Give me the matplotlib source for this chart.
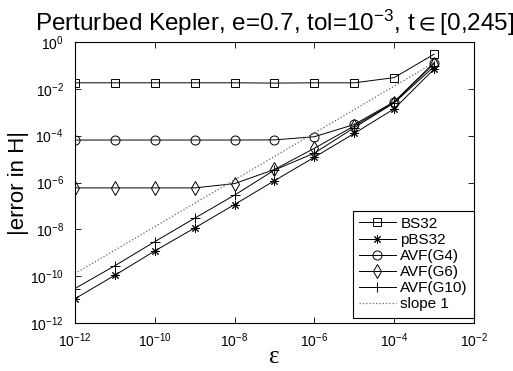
import numpy as np
import matplotlib
matplotlib.use('Agg')
import matplotlib.pyplot as plt
from matplotlib.ticker import LogLocator, NullLocator

params = {
    'font.family'      : ['Liberation Sans', 'DejaVu Sans'],
    'mathtext.default' : 'regular',
    'axes.linewidth'   : 0.8,
}
matplotlib.rcParams.update(params)

eps = [1e-12, 1e-11, 1e-10, 1e-9, 1e-8, 1e-7, 1e-6, 1e-5, 1e-4, 1e-3]

bs32    = [1.8e-2, 1.8e-2, 1.8e-2, 1.8e-2, 1.8e-2, 1.75e-2, 1.8e-2, 1.8e-2, 3.0e-2, 3.0e-1]
pbs32   = [1.1e-11, 1.1e-10, 1.2e-9, 1.15e-8, 1.15e-7, 1.2e-6, 1.2e-5, 1.25e-4, 1.4e-3, 7.0e-2]
avf_g4  = [6.5e-5, 6.5e-5, 6.5e-5, 6.5e-5, 6.5e-5, 6.6e-5, 9.0e-5, 3.0e-4, 2.8e-3, 1.3e-1]
avf_g6  = [5.9e-7, 5.9e-7, 5.9e-7, 5.9e-7, 9.0e-7, 3.6e-6, 2.9e-5, 2.6e-4, 2.6e-3, 1.2e-1]
avf_g10 = [3.0e-11, 2.8e-10, 3.0e-9, 3.0e-8, 2.9e-7, 3.4e-6, 1.8e-5, 2.2e-4, 2.5e-3, 9.0e-2]

slope_x = [1e-12, 1e-3]
slope_y = [1.3e-10, 1.3e-1]

fig = plt.figure(figsize=(5.13, 3.71), dpi=100)
ax = fig.add_axes([0.146, 0.129, 0.778, 0.758])

mk = dict(color='k', lw=0.7, mfc='none', mec='k', mew=0.7)
ax.loglog(eps, bs32, marker='s', ms=5.5, label='BS32', **mk)
ax.loglog(eps, pbs32, marker=(8, 2, 0), ms=6, label='pBS32', **mk)
ax.loglog(eps, avf_g4, marker='o', ms=6.5, label='AVF(G4)', **mk)
ax.loglog(eps, avf_g6, marker='d', ms=7.5, label='AVF(G6)', **mk)
ax.loglog(eps, avf_g10, marker='+', ms=7, label='AVF(G10)', **mk)
ax.loglog(slope_x, slope_y, ':', color='0.4', lw=0.9, label='slope 1')

ax.set_xlim(1e-12, 1e-2)
ax.set_ylim(1e-12, 1e0)
ax.xaxis.set_major_locator(LogLocator(base=100.0, numticks=10))
ax.yaxis.set_major_locator(LogLocator(base=100.0, numticks=10))
ax.xaxis.set_minor_locator(NullLocator())
ax.yaxis.set_minor_locator(NullLocator())
ax.tick_params(direction='in', top=True, right=True, labelsize=10, length=4, width=0.6)
ax.tick_params(axis='y', pad=8)
ax.tick_params(axis='x', pad=6)

ax.set_title('Perturbed Kepler, e=0.7, tol=10$^{-3}$, t$\\in$[0,245]', fontsize=17.5, pad=8)
ax.set_ylabel('|error in H|', fontsize=16, labelpad=1)
ax.set_xlabel('\u03b5', fontsize=18, family=['Liberation Serif', 'DejaVu Serif'], labelpad=-3)

leg = ax.legend(loc='lower right', bbox_to_anchor=(1.0, 0.02), fontsize=11, fancybox=False,
                edgecolor='k', framealpha=1, handlelength=2.4, borderpad=0.4,
                labelspacing=0.14, handletextpad=0.3, borderaxespad=0.0)
leg.get_frame().set_linewidth(0.8)

plt.savefig('out.png', dpi=100)
